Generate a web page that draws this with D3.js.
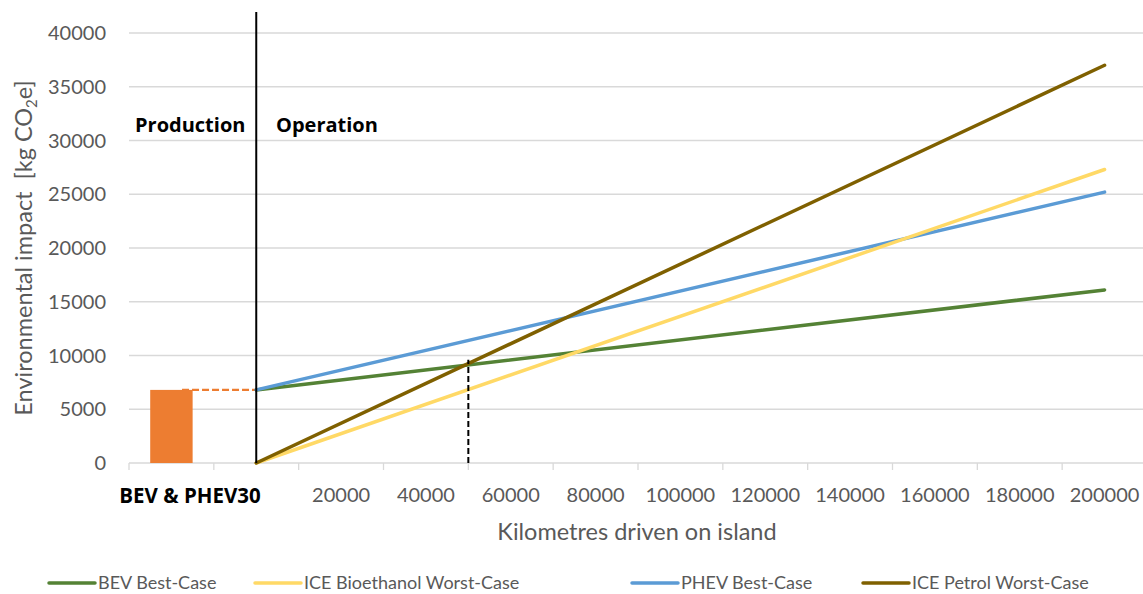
<!DOCTYPE html>
<html><head><meta charset="utf-8">
<script src="https://cdn.jsdelivr.net/npm/d3@7"></script>
<style>body{margin:0;background:#fff;} svg{display:block;}</style>
</head><body>
<svg id="c" width="1143" height="594"></svg>
<script>
// ---- data ----
const seriesNames = ["BEV Best-Case", "ICE Bioethanol Worst-Case", "PHEV Best-Case", "ICE Petrol Worst-Case"];
const seriesColors = ["#548235", "#FFD966", "#5B9BD5", "#7F6000"];
const kmPoints = [0, 200000];
const bevValues = [6800, 16100];
const bioethanolValues = [0, 27300];
const phevValues = [6800, 25200];
const petrolValues = [0, 37000];
const productionCategory = "BEV & PHEV30";
const productionValue = 6800;
const yTicks = [0, 5000, 10000, 15000, 20000, 25000, 30000, 35000, 40000];
const xTickLabels = [20000, 40000, 60000, 80000, 100000, 120000, 140000, 160000, 180000, 200000];
const xTickMarks = [-30000, -10000, 10000, 30000, 50000, 70000, 90000, 110000, 130000, 150000, 170000, 190000];
const breakEvenKm = 50000;
const breakEvenValue = 9600;

const allSeries = [bevValues, bioethanolValues, phevValues, petrolValues];

const svg = d3.select("#c");
const font = "Lato, 'Open Sans', sans-serif";
const x = d3.scaleLinear().domain([-30000, 210000]).range([129, 1147]);
const y = d3.scaleLinear().domain([0, 40000]).range([463, 33]);

// gridlines
svg.append("g").selectAll("line").data(yTicks.filter(d => d > 0)).join("line")
  .attr("x1", 129).attr("x2", 1143)
  .attr("y1", d => y(d)).attr("y2", d => y(d))
  .attr("stroke", "#D9D9D9").attr("stroke-width", 1.3);

// x axis line & tick marks
svg.append("line").attr("x1", 129).attr("x2", 1143).attr("y1", y(0)).attr("y2", y(0))
  .attr("stroke", "#D9D9D9").attr("stroke-width", 1.5);
svg.append("g").selectAll("line").data(xTickMarks).join("line")
  .attr("x1", d => x(d)).attr("x2", d => x(d))
  .attr("y1", y(0)).attr("y2", y(0) + 7)
  .attr("stroke", "#D9D9D9").attr("stroke-width", 1.3);

// y tick labels
svg.append("g").selectAll("text").data(yTicks).join("text")
  .attr("x", 106).attr("y", d => y(d)).attr("dy", "0.36em")
  .attr("text-anchor", "end").attr("font-family", font).attr("font-size", 20)
  .attr("fill", "#595959").text(d => d);

// x tick labels
svg.append("g").selectAll("text").data(xTickLabels).join("text")
  .attr("x", d => x(d)).attr("y", 502)
  .attr("text-anchor", "middle").attr("font-family", font).attr("font-size", 20)
  .attr("fill", "#595959").text(d => d);

svg.append("text").attr("x", 190).attr("y", 503).attr("text-anchor", "middle")
  .attr("font-family", "'Open Sans', sans-serif").attr("font-weight", "bold").attr("font-size", 20.5)
  .attr("fill", "#000").text(productionCategory);

// production bar
svg.append("rect")
  .attr("x", x(-25000)).attr("width", x(-15000) - x(-25000))
  .attr("y", y(productionValue)).attr("height", y(0) - y(productionValue))
  .attr("fill", "#ED7D31");
svg.append("line").attr("x1", x(-17500)).attr("x2", x(0))
  .attr("y1", y(productionValue)).attr("y2", y(productionValue))
  .attr("stroke", "#ED7D31").attr("stroke-width", 2.2).attr("stroke-dasharray", "7,3");

// lines
const lineGen = d3.line().x((d, i) => x(kmPoints[i])).y(d => y(d));
const order = [0, 2, 1, 3];
svg.append("g").selectAll("path").data(order).join("path")
  .attr("d", i => lineGen(allSeries[i]))
  .attr("fill", "none").attr("stroke", i => seriesColors[i])
  .attr("stroke-width", 3.5).attr("stroke-linecap", "round");

// vertical divider
svg.append("line").attr("x1", x(0)).attr("x2", x(0)).attr("y1", y(0)).attr("y2", 12)
  .attr("stroke", "#000").attr("stroke-width", 2);
// break-even dashed
svg.append("line").attr("x1", x(breakEvenKm)).attr("x2", x(breakEvenKm))
  .attr("y1", y(0)).attr("y2", y(breakEvenValue))
  .attr("stroke", "#000").attr("stroke-width", 2).attr("stroke-dasharray", "6,3");

// phase labels
svg.append("text").attr("x", 135).attr("y", 132).attr("font-family", "'Open Sans', sans-serif")
  .attr("font-weight", "bold").attr("font-size", 20).attr("fill", "#000").text("Production");
svg.append("text").attr("x", 276).attr("y", 132).attr("font-family", "'Open Sans', sans-serif")
  .attr("font-weight", "bold").attr("font-size", 20).attr("fill", "#000").text("Operation");

// axis titles
svg.append("text").attr("x", 637).attr("y", 540).attr("text-anchor", "middle")
  .attr("font-family", font).attr("font-size", 23.5).attr("fill", "#595959")
  .text("Kilometres driven on island");
const yt = svg.append("text").attr("transform", "translate(32,248) rotate(-90)")
  .attr("text-anchor", "middle").attr("font-family", font).attr("font-size", 23.5).attr("fill", "#595959")
  .style("white-space", "pre");
yt.append("tspan").text("Environmental impact  [kg CO");
yt.append("tspan").attr("font-size", 15).attr("dy", 5).text("2");
yt.append("tspan").attr("dy", -5).text("e]");

// legend
const legendX = [49, 255, 632, 863];
const lg = svg.append("g").selectAll("g").data(seriesNames).join("g")
  .attr("transform", (d, i) => `translate(${legendX[i]},583)`);
lg.append("line").attr("x1", 0).attr("x2", 46).attr("y1", 0).attr("y2", 0)
  .attr("stroke", (d, i) => seriesColors[i]).attr("stroke-width", 3.5).attr("stroke-linecap", "round");
lg.append("text").attr("x", 49).attr("dy", "0.36em").attr("font-family", font).attr("font-size", 18)
  .attr("fill", "#595959").text(d => d);
</script>
</body></html>
